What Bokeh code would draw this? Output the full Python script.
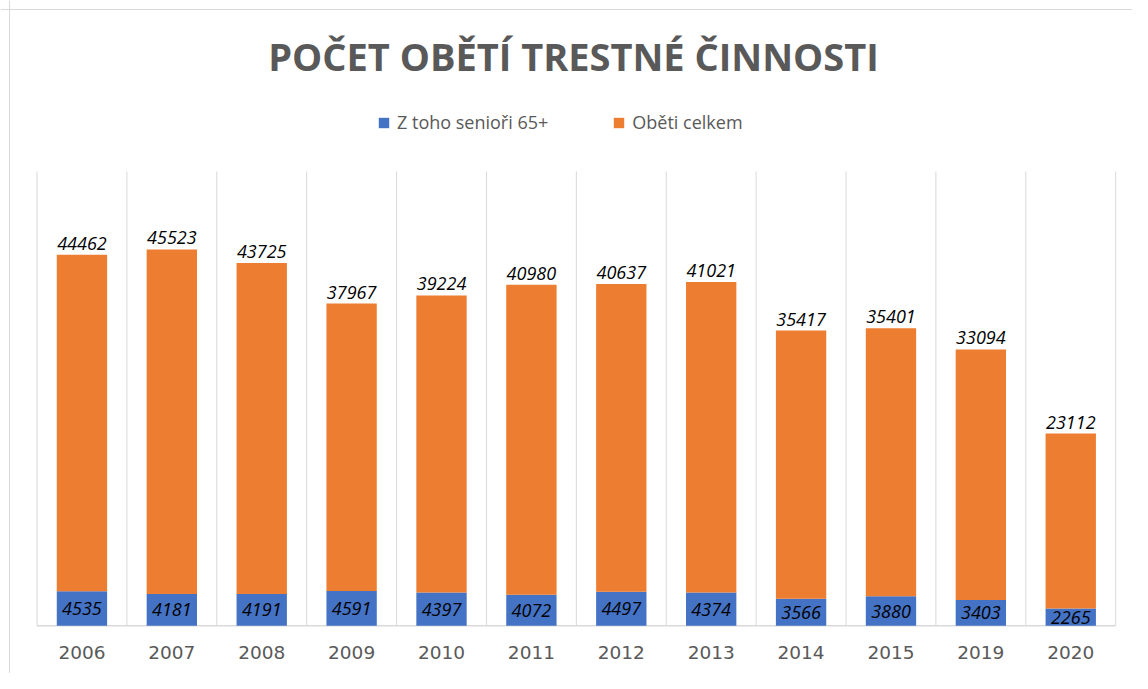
from bokeh.plotting import figure
from bokeh.models import ColumnDataSource, LabelSet, Label, Legend, LegendItem, Span
from bokeh.core.properties import value
from bokeh.embed import file_html
from bokeh.resources import INLINE

years = ["2006", "2007", "2008", "2009", "2010", "2011", "2012", "2013", "2014", "2015", "2019", "2020"]
seniors = [4535, 4181, 4191, 4591, 4397, 4072, 4497, 4374, 3566, 3880, 3403, 2265]
victims = [44462, 45523, 43725, 37967, 39224, 40980, 40637, 41021, 35417, 35401, 33094, 23112]

title_text = "POČET OBĚTÍ TRESTNÉ ČINNOSTI"
series_names = ["Z toho senioři 65+", "Oběti celkem"]
colors = ["#4472C4", "#ED7D31"]
y_axis_max = 60000

# canvas geometry (pixels)
W, H = 1132, 673
PLOT_L, PLOT_R = 36.5, 1115.2      # plot-area left/right
PLOT_T, PLOT_B = 171.0, 625.2      # plot-area top / baseline
n = len(years)
cw = (PLOT_R - PLOT_L) / n
ppu = (PLOT_B - PLOT_T) / y_axis_max
x_start = -0.5 - PLOT_L / cw
x_end = n - 0.5 + (W - PLOT_R) / cw
y_start = -(H - PLOT_B) / ppu
y_end = PLOT_B / ppu

p = figure(x_range=(x_start, x_end), y_range=(y_start, y_end), width=W, height=H,
           output_backend="svg", toolbar_location=None,
           x_axis_location=None, y_axis_location=None,
           min_border_left=0, min_border_right=0, min_border_top=0, min_border_bottom=0)
p.outline_line_color = None
p.background_fill_color = "white"
p.border_fill_color = "white"
p.grid.grid_line_color = None

xs = list(range(n))
src = ColumnDataSource(dict(
    x=xs, year=years, seniors=seniors, victims=victims,
    top=[a + b for a, b in zip(seniors, victims)],
    mid=[a / 2 for a in seniors],
    zero=[0] * n,
    seniors_txt=[str(v) for v in seniors],
    victims_txt=[str(v) for v in victims],
))

# outer chart border (left and top)
p.add_layout(Span(location=9, location_units="screen", dimension="height",
                  line_color="#d9d9d9", line_width=1))
p.add_layout(Span(location=H - 9, location_units="screen", dimension="width",
                  line_color="#d9d9d9", line_width=1))

# category separators
gx = [i - 0.5 for i in range(n + 1)]
p.segment(x0=gx, x1=gx, y0=[0] * len(gx), y1=[y_axis_max] * len(gx),
          line_color="#d9d9d9", line_width=1)
# axis line
p.segment(x0=[gx[0]], x1=[gx[-1]], y0=[0], y1=[0], line_color="#d9d9d9", line_width=1.5)

r = p.vbar_stack(["seniors", "victims"], x="x", width=0.56, source=src,
                 color=colors, line_color=None)

p.add_layout(LabelSet(x="x", y="mid", text="seniors_txt", source=src,
                      text_align="center", text_baseline="middle",
                      text_font=value("Open Sans"), text_font_style="italic",
                      text_font_size="18px", text_color="black"))
p.add_layout(LabelSet(x="x", y="top", text="victims_txt", source=src,
                      text_align="center", text_baseline="alphabetic", y_offset=5,
                      text_font=value("Open Sans"), text_font_style="italic",
                      text_font_size="18px", text_color="black"))
# category labels
p.add_layout(LabelSet(x="x", y="zero", text="year", source=src,
                      text_align="center", text_baseline="middle", y_offset=-27,
                      text_font=value("DejaVu Sans"), text_font_size="18.5px",
                      text_color="#595959"))

legend = Legend(items=[LegendItem(label=series_names[0], renderers=[r[0]]),
                       LegendItem(label=series_names[1], renderers=[r[1]])],
                location=(377, H - 134), orientation="horizontal",
                label_text_font="Open Sans", label_text_font_size="18px",
                label_text_color="#595959", glyph_width=13, glyph_height=13,
                label_standoff=7, spacing=64, padding=0, margin=0,
                border_line_color=None, background_fill_alpha=0, label_height=20)
p.add_layout(legend, "center")

p.add_layout(Label(x=573, y=H - 55, x_units="screen", y_units="screen",
                   text=title_text, text_align="center", text_baseline="middle",
                   text_font="Open Sans", text_font_style="bold", text_font_size="38px",
                   text_color="#595959"))

open("out.html", "w").write(file_html(p, INLINE))
